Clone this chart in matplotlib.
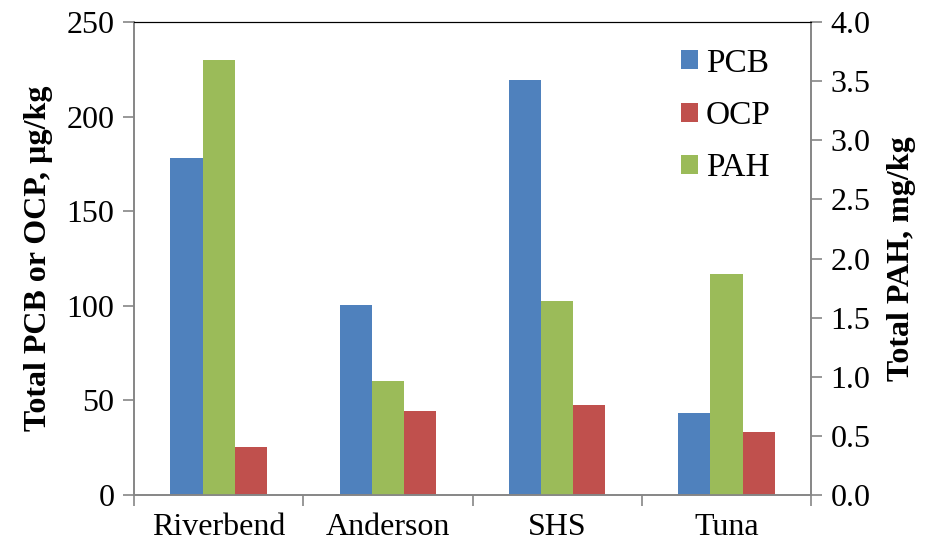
import numpy as np
import matplotlib.pyplot as plt

plt.rcParams['font.family'] = ['Liberation Serif', 'DejaVu Serif']

sites = ['Riverbend', 'Anderson', 'SHS', 'Tuna']
pcb = [178, 100.5, 219.5, 43.5]      # ug/kg, left axis
ocp = [25.3, 44.2, 47.6, 33.3]       # ug/kg, left axis
pah = [3.68, 0.965, 1.64, 1.87]      # mg/kg, right axis

blue = '#4f81bd'
red = '#c0504d'
green = '#9bbb59'
grey = '#868686'

fig = plt.figure(figsize=(9.27, 5.52), dpi=100)
ax = fig.add_axes([0.1445, 0.1033, 0.7305, 0.8567])
ax2 = ax.twinx()

x = np.arange(len(sites))
w = 0.19
b1 = ax.bar(x - w, pcb, w, color=blue, label='PCB')
b2 = ax.bar(x + w, ocp, w, color=red, label='OCP')
b3 = ax2.bar(x, pah, w, color=green, label='PAH')

ax.set_xlim(-0.5, len(sites) - 0.5)
ax.set_ylim(0, 250)
ax2.set_ylim(0, 4.0)
ax.set_yticks(np.arange(0, 251, 50))
ax2.set_yticks(np.arange(0, 4.01, 0.5))
ax2.set_yticklabels(['%.1f' % v for v in np.arange(0, 4.01, 0.5)])

ax.set_xticks(x)
ax.set_xticklabels(sites)
ax.set_xticks(np.arange(-0.5, len(sites), 1), minor=True)
ax.tick_params(axis='x', which='major', length=0, labelsize=23, pad=13)
ax.tick_params(axis='x', which='minor', length=8, color=grey, width=1.2)
ax.tick_params(axis='y', length=8, color=grey, width=1.2, labelsize=23, pad=6)
ax2.tick_params(axis='y', length=8, color=grey, width=1.2, labelsize=23, pad=6)

for a in (ax, ax2):
    for s in ('left', 'right', 'bottom'):
        a.spines[s].set_color(grey)
        a.spines[s].set_linewidth(1.2)
    a.spines['top'].set_color('black')

ax.set_ylabel('Total PCB or OCP, µg/kg', fontsize=23, fontweight='bold', labelpad=10)
ax2.set_ylabel('Total PAH, mg/kg', fontsize=23, fontweight='bold', labelpad=12)

ax2.legend([b1, b2, b3], ['PCB', 'OCP', 'PAH'], loc='upper right',
           bbox_to_anchor=(0.985, 1.008), frameon=False, fontsize=24,
           handlelength=0.5, handleheight=0.5, handletextpad=0.25,
           labelspacing=0.65)

fig.savefig('out.png', dpi=100)
